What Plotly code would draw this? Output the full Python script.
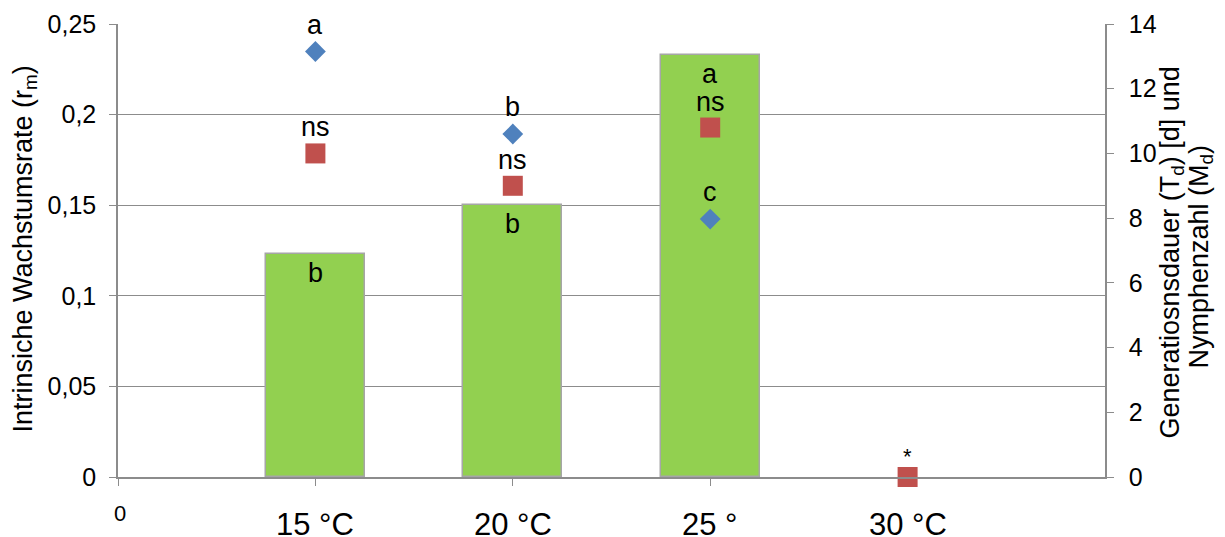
import plotly.graph_objects as go

categories = ["15 °C", "20 °C", "25 °", "30 °C"]
cat_pos = [1, 2, 3, 4]
rm_values = [0.123, 0.150, 0.233, None]          # bars, left axis
td_values = [13.15, 10.6, 7.97]                  # blue diamonds, right axis
md_values = [10.0, 9.0, 10.8, 0.0]               # red squares, right axis
bar_letters = ["b", "b", "a", ""]
td_letters = ["a", "b", "c"]
md_letters = ["ns", "ns", "ns", "*"]
left_title = "Intrinsiche Wachstumsrate (r<sub>m</sub>)"
right_title_lines = ["Generatiosnsdauer (T<sub>d</sub>) [d] und", "Nymphenzahl (M<sub>d</sub>)"]

FONT = "Liberation Sans, Arial, sans-serif"
GRID = "#8c8c8c"
Y2MAX = 14.0
Y1MAX = 0.25

fig = go.Figure()
fig.add_trace(go.Bar(
    x=cat_pos[:3], y=rm_values[:3], width=0.5,
    marker=dict(color="#92D050", line=dict(color="#A6A6A6", width=1.5)),
    showlegend=False, hoverinfo="skip"))
fig.add_trace(go.Scatter(
    x=cat_pos[:3], y=td_values, mode="markers", yaxis="y2",
    marker=dict(symbol="diamond", size=16, color="#4F81BD"),
    showlegend=False))
fig.add_trace(go.Scatter(
    x=cat_pos, y=md_values, mode="markers", yaxis="y2",
    marker=dict(symbol="square", size=20, color="#C0504D"),
    showlegend=False, cliponaxis=False))

ann = []
lf = dict(family=FONT, size=27, color="black")
for x, v, t in zip(cat_pos, rm_values, bar_letters):
    if t and v is not None:
        ann.append(dict(x=x, y=v, xref="x", yref="y", text=t, showarrow=False,
                        yshift=-19, font=lf))
for x, v, t in zip(cat_pos, td_values, td_letters):
    ann.append(dict(x=x, y=v, xref="x", yref="y2", text=t, showarrow=False,
                    yshift=27, font=lf))
for x, v, t in zip(cat_pos, md_values, md_letters):
    sh = 21 if t == "*" else 26
    ann.append(dict(x=x, y=v, xref="x", yref="y2", text=t, showarrow=False,
                    yshift=sh, font=dict(family=FONT, size=22 if t == "*" else 27, color="black")))
for x, t in zip(cat_pos, categories):
    ann.append(dict(x=x, y=0, xref="x", yref="paper", text=t, showarrow=False,
                    yanchor="middle", yshift=-47, font=dict(family=FONT, size=31, color="black")))
ann.append(dict(x=0, y=0, xref="x", yref="paper", text="0", showarrow=False,
                yanchor="middle", yshift=-36, xshift=2, font=dict(family=FONT, size=22, color="black")))

# axis titles as rotated annotations
tf = dict(family=FONT, size=27, color="black")
ann.append(dict(x=0, y=0.5, xref="paper", yref="paper", text=left_title, showarrow=False,
                textangle=-90, xanchor="center", yanchor="middle", xshift=-94, yshift=1, font=tf))
for i, (line, xs, ys) in enumerate(zip(right_title_lines, [66, 95], [-2, -6])):
    ann.append(dict(x=1, y=0.5, xref="paper", yref="paper", text=line, showarrow=False,
                    textangle=-90, xanchor="center", yanchor="middle", xshift=xs, yshift=ys, font=tf))

# page body has an 8px margin: figure origin sits at (8, 8) in the window
fig.update_layout(
    width=1217, height=529,
    margin=dict(l=110, r=120, t=16, b=60, autoexpand=False),
    plot_bgcolor="white", paper_bgcolor="white",
    font=dict(family=FONT, color="black"),
    bargap=0,
    xaxis=dict(range=[0, 5], tickvals=[0, 1, 2, 3], ticktext=["", "", "", ""],
               ticks="outside", ticklen=7, tickcolor=GRID, showgrid=False,
               showline=True, linecolor=GRID, linewidth=1.5, zeroline=False),
    yaxis=dict(range=[0, Y1MAX],
               tickvals=[0, 0.05, 0.1, 0.15, 0.2, 0.25],
               ticktext=["0", "0,05", "0,1", "0,15", "0,2", "0,25"],
               ticks="outside", ticklen=7, tickcolor=GRID,
               ticklabelstandoff=8,
               showgrid=True, gridcolor=GRID, gridwidth=1.2,
               showline=True, linecolor=GRID, linewidth=1.5, zeroline=False,
               tickfont=dict(size=25)),
    yaxis2=dict(range=[0, Y2MAX], dtick=2, overlaying="y", side="right",
                ticks="outside", ticklen=7, tickcolor=GRID,
                ticklabelstandoff=10,
                showgrid=False, showline=True, linecolor=GRID, linewidth=1.5,
                zeroline=False, tickfont=dict(size=25)),
    annotations=ann,
)

fig.write_html("out.html")
